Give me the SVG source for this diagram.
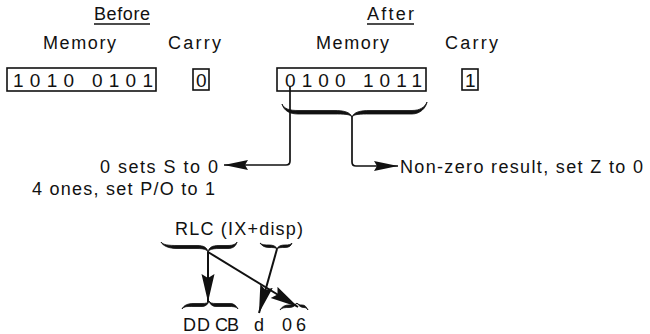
<svg xmlns="http://www.w3.org/2000/svg" width="650" height="334" viewBox="0 0 650 334">
<style>
text{font-family:"Liberation Sans",Arial,sans-serif;font-size:18px;fill:#111}
.dig{font-size:19px}
.box{fill:none;stroke:#111;stroke-width:1.6}
.ul{stroke:#111;stroke-width:1.3}
.brace{fill:#111;stroke:#111;stroke-width:0.8;stroke-linejoin:round}
.ln{fill:none;stroke:#111;stroke-width:1.7}
.lnb{fill:none;stroke:#111;stroke-width:2}
</style>
<defs>
<marker id="ahS" markerUnits="userSpaceOnUse" markerWidth="25" markerHeight="11" refX="24" refY="5" orient="auto"><path d="M0,0 L24,5 L0,10 L3,5 z" fill="#111"/></marker>
<marker id="ahL" markerUnits="userSpaceOnUse" markerWidth="29" markerHeight="14" refX="28" refY="6.5" orient="auto"><path d="M0,0 L28,6.5 L0,13 L4,6.5 z" fill="#111"/></marker>
</defs>
<g id="before-title"><text x="94" y="20" textLength="56" lengthAdjust="spacing">Before</text><line class="ul" x1="94" y1="24" x2="150" y2="24"/></g>
<g id="after-title"><text x="367" y="20" textLength="47" lengthAdjust="spacing">After</text><line class="ul" x1="367" y1="24" x2="414" y2="24"/></g>
<g id="mem-before"><text x="43" y="49" textLength="73" lengthAdjust="spacing">Memory</text><rect class="box" x="7" y="68" width="149" height="23"/><text class="dig" x="13" y="87" textLength="140" lengthAdjust="spacing">1010 0101</text></g>
<g id="carry-before"><text x="168" y="49" textLength="53" lengthAdjust="spacing">Carry</text><rect class="box" x="193" y="69" width="16" height="21"/><text class="dig" x="196" y="87">0</text></g>
<g id="mem-after"><text x="316" y="49" textLength="73" lengthAdjust="spacing">Memory</text><rect class="box" x="277" y="68" width="149" height="23"/><text class="dig" x="285" y="87" textLength="137" lengthAdjust="spacing">0100 1011</text></g>
<g id="carry-after"><text x="445" y="49" textLength="53" lengthAdjust="spacing">Carry</text><rect class="box" x="462" y="69" width="16" height="21"/><text class="dig" x="465" y="87">1</text></g>
<g id="note-s"><text x="100" y="173" textLength="118" lengthAdjust="spacing">0 sets S to 0</text><text x="32" y="195" textLength="183" lengthAdjust="spacing">4 ones, set P/O to 1</text></g>
<g id="note-z"><text x="400" y="173" textLength="243" lengthAdjust="spacing">Non-zero result, set Z to 0</text></g>
<g id="instr"><text x="175" y="235" textLength="128" lengthAdjust="spacing">RLC (IX+disp)</text></g>
<g id="bytes"><text x="183" y="331" textLength="27" lengthAdjust="spacing">DD</text><text x="215" y="331" textLength="24" lengthAdjust="spacing">CB</text><text x="254" y="331">d</text><text x="282" y="331" textLength="24" lengthAdjust="spacing">06</text></g>
<g id="braces">
<path class="brace" d="M282,104 C284,109 290,110.5 298,110.5 L334,110.5 C344,110.5 350,112 352,117 C354,112 360,110.5 370,110.5 L412,110.5 C420,110.5 425,107 427,102 C426,108 420,114 412,114 L370,114 C360,114 354,114 352,117 C350,114 344,114 334,114 L298,114 C290,114 284,111 282,104 Z"/>
<path class="brace" d="M161,242 C163,245 169,245.5 177,245.5 L197,245.5 C204,245.5 207,247.5 208,252 C209,247.5 212,245.5 219,245.5 L228,245.5 C233,245.5 236,244 237,242 C236,246 233,248.5 228,248.5 L219,248.5 C213,248.5 209,249.5 208,252 C207,249.5 203,248.5 197,248.5 L177,248.5 C169,248.5 163,246 161,242 Z"/>
<path class="brace" d="M260,243 C262,245 265,245 269,245 C273,245 276,246 277,249 C278,246 281,245 285,245 C289,245 291,244.5 292,243 C291,246 289,247.5 285,247.5 C281,247.5 278,247.5 277,249 C276,247.5 273,247.5 269,247.5 C265,247.5 262,246 260,243 Z"/>
<path class="brace" d="M182,309 C184,306 188,306.5 194,306.5 L202,306.5 C206,306.5 208,304 209,301 C210,304 212,306.5 216,306.5 L230,306.5 C235,306.5 237,307.5 238,309 C236,305.5 234,303.5 230,303.5 L216,303.5 C212,303.5 210,303 209,301 C208,303 206,303.5 202,303.5 L194,303.5 C188,303.5 184,305 182,309 Z"/>
<path class="brace" d="M280,310 C282,307.5 285,307.5 289,307.5 C293,307.5 295,306 297,303 C299,306 301,307.5 304,307.5 C306,307.5 307,308.5 308,310 C306,306.5 305,305 302,305 C300,305 298,304.5 297,303 C296,304.5 293,305 289,305 C285,305 282,306.5 280,310 Z"/>
</g>
<g id="connectors">
<path class="ln" d="M290,86 L290,161 Q290,165 286,165 L224,165" marker-end="url(#ahS)"/>
<path class="ln" d="M352,117 L352,162 Q352,166 356,166 L398,166" marker-end="url(#ahS)"/>
<path class="lnb" d="M208,252 L208,302" marker-end="url(#ahL)"/>
<path class="lnb" d="M208,252 L298,307" marker-end="url(#ahL)"/>
<path class="lnb" d="M277,249 L259,313" marker-end="url(#ahL)"/>
</g>
</svg>
